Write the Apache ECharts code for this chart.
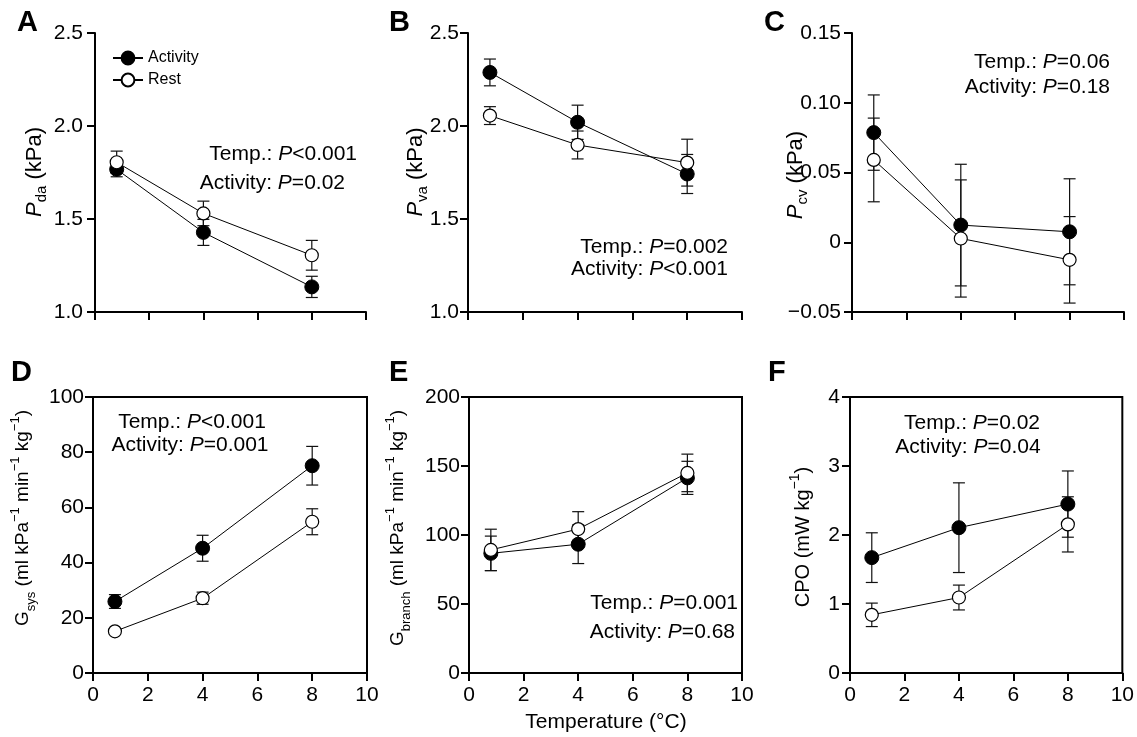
<!DOCTYPE html>
<html>
<head>
<meta charset="utf-8">
<script src="https://cdn.jsdelivr.net/npm/echarts@6/dist/echarts.min.js"></script>
<style>
  html, body { margin: 0; padding: 0; background: #fff; }
  #main { width: 1137px; height: 737px; }
</style>
</head>
<body>
<div id="main"></div>
<script>
// temperature of the three groups (°C)
const tempX = [0.8, 4, 8];
const xTickLabels = ['0', '2', '4', '6', '8', '10'];

// A: Pda (kPa)
const pdaActivity = [1.767, 1.428, 1.135];
const pdaActivityErr = [0.04, 0.07, 0.057];
const pdaRest = [1.805, 1.53, 1.305];
const pdaRestErr = [0.06, 0.066, 0.08];
const pdaTicks = ['1.0', '1.5', '2.0', '2.5'];

// B: Pva (kPa)
const pvaActivity = [2.288, 2.02, 1.742];
const pvaActivityErr = [0.072, 0.092, 0.105];
const pvaRest = [2.056, 1.898, 1.803];
const pvaRestErr = [0.048, 0.075, 0.126];
const pvaTicks = ['1.0', '1.5', '2.0', '2.5'];

// C: Pcv (kPa)
const pcvActivity = [0.0786, 0.0123, 0.0075];
const pcvActivityErr = [0.027, 0.0436, 0.038];
const pcvRest = [0.059, 0.0027, -0.0126];
const pcvRestErr = [0.030, 0.042, 0.031];
const pcvTicks = ['\u22120.05', '0', '0.05', '0.10', '0.15'];

// D: Gsys
const gsysActivity = [25.9, 45.2, 75.1];
const gsysActivityErr = [2.5, 4.7, 7.0];
const gsysRest = [15.1, 27.1, 54.8];
const gsysRestErr = [1.0, 2.2, 4.7];
const gsysTicks = ['0', '20', '40', '60', '80', '100'];

// E: Gbranch
const gbrActivity = [86.7, 93.3, 141.4];
const gbrActivityErr = [12.5, 14, 12];
const gbrRest = [89.2, 104.3, 145];
const gbrRestErr = [15, 12.6, 13.6];
const gbrTicks = ['0', '50', '100', '150', '200'];

// F: CPO (mW kg-1)
const cpoActivity = [1.672, 2.106, 2.448];
const cpoActivityErr = [0.36, 0.65, 0.48];
const cpoRest = [0.843, 1.094, 2.154];
const cpoRestErr = [0.17, 0.18, 0.40];
const cpoTicks = ['0', '1', '2', '3', '4'];

const FONT = '"Liberation Sans", Arial, Helvetica, sans-serif';

const panels = [
  { id: 'A', act: pdaActivity, actErr: pdaActivityErr, rest: pdaRest, restErr: pdaRestErr, ticks: pdaTicks,
    min: 1.0, max: 2.5, interval: 0.5, box: [95, 33, 271, 279], labelMargin: 12, frame: false },
  { id: 'B', act: pvaActivity, actErr: pvaActivityErr, rest: pvaRest, restErr: pvaRestErr, ticks: pvaTicks,
    min: 1.0, max: 2.5, interval: 0.5, box: [468, 33, 274, 279], labelMargin: 9, frame: false },
  { id: 'C', act: pcvActivity, actErr: pcvActivityErr, rest: pcvRest, restErr: pcvRestErr, ticks: pcvTicks,
    min: -0.05, max: 0.15, interval: 0.05, box: [852, 33, 272, 279], labelMargin: 11, frame: false },
  { id: 'D', act: gsysActivity, actErr: gsysActivityErr, rest: gsysRest, restErr: gsysRestErr, ticks: gsysTicks,
    min: 0, max: 100, interval: 20, box: [93, 397, 274, 276], labelMargin: 9, frame: true },
  { id: 'E', act: gbrActivity, actErr: gbrActivityErr, rest: gbrRest, restErr: gbrRestErr, ticks: gbrTicks,
    min: 0, max: 200, interval: 50, box: [469, 397, 273, 276], labelMargin: 9, frame: true },
  { id: 'F', act: cpoActivity, actErr: cpoActivityErr, rest: cpoRest, restErr: cpoRestErr, ticks: cpoTicks,
    min: 0, max: 4, interval: 1, box: [850, 397, 274, 276], labelMargin: 10, frame: true }
];

function errorBar(params, api) {
  const x = api.value(0);
  const top = api.coord([x, api.value(2)]);
  const bot = api.coord([x, api.value(1)]);
  const w = 6;
  const style = { stroke: '#111', lineWidth: 1.2 };
  return {
    type: 'group',
    children: [
      { type: 'line', shape: { x1: top[0], y1: top[1], x2: bot[0], y2: bot[1] }, style: style },
      { type: 'line', shape: { x1: top[0] - w, y1: top[1], x2: top[0] + w, y2: top[1] }, style: style },
      { type: 'line', shape: { x1: bot[0] - w, y1: bot[1], x2: bot[0] + w, y2: bot[1] }, style: style }
    ]
  };
}

const grids = [], xAxes = [], yAxes = [], series = [];

panels.forEach((p, i) => {
  grids.push({
    left: p.box[0], top: p.box[1], width: p.box[2], height: p.box[3],
    show: p.frame, borderColor: '#000', borderWidth: 2, backgroundColor: 'transparent'
  });
  xAxes.push({
    gridIndex: i, type: 'value', min: 0, max: 10, interval: 2,
    axisLine: { onZero: false, lineStyle: { color: '#000', width: 2 } },
    axisTick: { length: 8, lineStyle: { color: '#000', width: 2 } },
    axisLabel: {
      show: p.frame, margin: 12, color: '#000', fontSize: 21, fontFamily: FONT,
      formatter: (v) => xTickLabels[Math.round(v / 2)]
    },
    splitLine: { show: false }
  });
  yAxes.push({
    gridIndex: i, type: 'value', min: p.min, max: p.max, interval: p.interval,
    axisLine: { show: true, onZero: false, lineStyle: { color: '#000', width: 2 } },
    axisTick: { show: true, length: 8, lineStyle: { color: '#000', width: 2 } },
    axisLabel: {
      margin: p.labelMargin, color: '#000', fontSize: 21, fontFamily: FONT,
      formatter: (v) => p.ticks[Math.round((v - p.min) / p.interval)]
    },
    splitLine: { show: false }
  });

  const barsAct = tempX.map((x, k) => [x, p.act[k] - p.actErr[k], p.act[k] + p.actErr[k]]);
  const barsRest = tempX.map((x, k) => [x, p.rest[k] - p.restErr[k], p.rest[k] + p.restErr[k]]);

  series.push({
    type: 'custom', name: 'errAct' + i, xAxisIndex: i, yAxisIndex: i, z: 1,
    renderItem: errorBar, data: barsAct, encode: { x: 0, y: [1, 2] }, silent: true
  });
  series.push({
    type: 'custom', name: 'errRest' + i, xAxisIndex: i, yAxisIndex: i, z: 1,
    renderItem: errorBar, data: barsRest, encode: { x: 0, y: [1, 2] }, silent: true
  });
  series.push({
    type: 'line', name: 'Activity', xAxisIndex: i, yAxisIndex: i, z: 2,
    data: tempX.map((x, k) => [x, p.act[k]]),
    symbol: 'circle', symbolSize: 14, showSymbol: true,
    lineStyle: { color: '#000', width: 1 },
    itemStyle: { color: '#000', borderColor: '#000', borderWidth: 1 }
  });
  series.push({
    type: 'line', name: 'Rest', xAxisIndex: i, yAxisIndex: i, z: 3,
    data: tempX.map((x, k) => [x, p.rest[k]]),
    symbol: 'circle', symbolSize: 13, showSymbol: true,
    lineStyle: { color: '#000', width: 1 },
    itemStyle: { color: '#fff', borderColor: '#000', borderWidth: 1.2 }
  });
});

function makeRich(fs) {
  return {
    n: { fontSize: fs, lineHeight: 29, fontFamily: FONT, fill: '#000' },
    it: { fontSize: fs, lineHeight: 29, fontStyle: 'italic', fontFamily: FONT, fill: '#000' },
    sub: { fontSize: Math.round(fs * 0.7), lineHeight: 17, verticalAlign: 'bottom', fontFamily: FONT, fill: '#000' },
    sup: { fontSize: Math.round(fs * 0.68), lineHeight: 19, verticalAlign: 'top', fontFamily: FONT, fill: '#000' }
  };
}
const statRich = {
  n: { fontSize: 21, fontFamily: FONT, fill: '#000' },
  it: { fontSize: 21, fontStyle: 'italic', fontFamily: FONT, fill: '#000' }
};

function yTitle(x, y, fs, text) {
  return { type: 'text', x: x, y: y, rotation: Math.PI / 2,
    style: { text: text, rich: makeRich(fs), align: 'center', verticalAlign: 'middle', fill: '#000' } };
}
function stat(x, y, align, text) {
  return { type: 'text', x: x, y: y,
    style: { text: text, rich: statRich, align: align, verticalAlign: 'middle', fill: '#000' } };
}
function letter(x, y, t) {
  return { type: 'text', x: x, y: y,
    style: { text: t, font: 'bold 29px ' + FONT, fill: '#000', align: 'left', verticalAlign: 'top' } };
}

const graphics = [
  letter(17, 8, 'A'), letter(389, 8, 'B'), letter(764, 8, 'C'),
  letter(11, 358, 'D'), letter(389, 358, 'E'), letter(768, 358, 'F'),
  yTitle(35, 172, 22, '{it|P}{sub|da}{n| (kPa)}'),
  yTitle(416, 172, 22, '{it|P}{sub|va}{n| (kPa)}'),
  yTitle(796, 175, 22, '{it|P}{sub|cv}{n| (kPa)}'),
  yTitle(23, 518, 19, '{n|G}{sub|sys}{n| (ml kPa}{sup|\u22121}{n| min}{sup|\u22121}{n| kg}{sup|\u22121}{n|)}'),
  yTitle(398, 528, 19, '{n|G}{sub|branch}{n| (ml kPa}{sup|\u22121}{n| min}{sup|\u22121}{n| kg}{sup|\u22121}{n|)}'),
  yTitle(803, 537, 20, '{n|CPO (mW kg}{sup|\u22121}{n|)}'),
  stat(357, 154, 'right', '{n|Temp.: }{it|P}{n|<0.001}'),
  stat(345, 183, 'right', '{n|Activity: }{it|P}{n|=0.02}'),
  stat(728, 247, 'right', '{n|Temp.: }{it|P}{n|=0.002}'),
  stat(728, 269, 'right', '{n|Activity: }{it|P}{n|<0.001}'),
  stat(1110, 62, 'right', '{n|Temp.: }{it|P}{n|=0.06}'),
  stat(1110, 87, 'right', '{n|Activity: }{it|P}{n|=0.18}'),
  stat(192, 422, 'center', '{n|Temp.: }{it|P}{n|<0.001}'),
  stat(190, 445, 'center', '{n|Activity: }{it|P}{n|=0.001}'),
  stat(738, 603, 'right', '{n|Temp.: }{it|P}{n|=0.001}'),
  stat(735, 632, 'right', '{n|Activity: }{it|P}{n|=0.68}'),
  stat(972, 423, 'center', '{n|Temp.: }{it|P}{n|=0.02}'),
  stat(968, 447, 'center', '{n|Activity: }{it|P}{n|=0.04}'),
  { type: 'text', x: 606, y: 722,
    style: { text: 'Temperature (\u00b0C)', font: '21px ' + FONT, fill: '#000', align: 'center', verticalAlign: 'middle' } }
];

const chart = echarts.init(document.getElementById('main'), null, { renderer: 'canvas' });
chart.setOption({
  animation: false,
  backgroundColor: '#fff',
  textStyle: { fontFamily: FONT, color: '#000' },
  legend: {
    data: ['Activity', 'Rest'],
    orient: 'vertical', left: 107, top: 45,
    itemWidth: 30, itemHeight: 16, itemGap: 6,
    textStyle: { fontSize: 16, color: '#000', fontFamily: FONT },
    selectedMode: false
  },
  grid: grids,
  xAxis: xAxes,
  yAxis: yAxes,
  series: series,
  graphic: graphics
});
</script>
</body>
</html>
